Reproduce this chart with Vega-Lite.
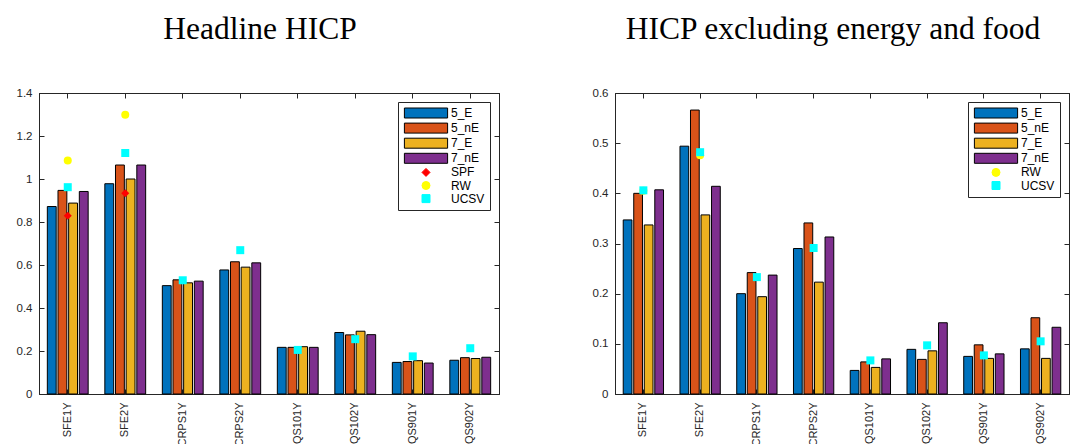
{
  "$schema": "https://vega.github.io/schema/vega-lite/v6.json",
  "background": "white",
  "padding": {"left": 15, "top": 13, "right": 0, "bottom": 0},
  "config": {
    "font": "Liberation Sans",
    "view": {"stroke": "#262626", "strokeWidth": 1},
    "axis": {
      "grid": false,
      "title": null,
      "domainColor": "#262626",
      "domainWidth": 1,
      "tickColor": "#262626",
      "tickWidth": 1,
      "tickSize": -5,
      "labelColor": "#262626",
      "labelFont": "Liberation Sans",
      "labelFontSize": 11.5
    },
    "title": {
      "font": "Liberation Serif",
      "fontSize": 31.5,
      "fontWeight": "normal",
      "color": "#000000",
      "baseline": "alphabetic",
      "offset": 42,
      "dx": -9
    },
    "legend": {
      "orient": "top-right",
      "offset": 9,
      "padding": 5,
      "strokeColor": "#262626",
      "fillColor": "white",
      "cornerRadius": 0,
      "labelFont": "Liberation Sans",
      "labelFontSize": 12,
      "labelColor": "#000000",
      "symbolSize": 64,
      "symbolOffset": 17,
      "labelOffset": 19,
      "rowPadding": 1.1,
      "symbolStrokeWidth": 1,
      "symbolOpacity": 1
    }
  },
  "datasets": {
    "barsL": [
      {"cat": "SFE1Y", "series": "5_E", "value": 0.872},
      {"cat": "SFE1Y", "series": "5_nE", "value": 0.947},
      {"cat": "SFE1Y", "series": "7_E", "value": 0.888},
      {"cat": "SFE1Y", "series": "7_nE", "value": 0.942},
      {"cat": "SFE2Y", "series": "5_E", "value": 0.978},
      {"cat": "SFE2Y", "series": "5_nE", "value": 1.065},
      {"cat": "SFE2Y", "series": "7_E", "value": 1.0},
      {"cat": "SFE2Y", "series": "7_nE", "value": 1.065},
      {"cat": "CRPS1Y", "series": "5_E", "value": 0.504},
      {"cat": "CRPS1Y", "series": "5_nE", "value": 0.531},
      {"cat": "CRPS1Y", "series": "7_E", "value": 0.517},
      {"cat": "CRPS1Y", "series": "7_nE", "value": 0.525},
      {"cat": "CRPS2Y", "series": "5_E", "value": 0.577},
      {"cat": "CRPS2Y", "series": "5_nE", "value": 0.615},
      {"cat": "CRPS2Y", "series": "7_E", "value": 0.59},
      {"cat": "CRPS2Y", "series": "7_nE", "value": 0.61},
      {"cat": "QS101Y", "series": "5_E", "value": 0.217},
      {"cat": "QS101Y", "series": "5_nE", "value": 0.217},
      {"cat": "QS101Y", "series": "7_E", "value": 0.22},
      {"cat": "QS101Y", "series": "7_nE", "value": 0.217},
      {"cat": "QS102Y", "series": "5_E", "value": 0.286},
      {"cat": "QS102Y", "series": "5_nE", "value": 0.275},
      {"cat": "QS102Y", "series": "7_E", "value": 0.292},
      {"cat": "QS102Y", "series": "7_nE", "value": 0.276},
      {"cat": "QS901Y", "series": "5_E", "value": 0.147},
      {"cat": "QS901Y", "series": "5_nE", "value": 0.151},
      {"cat": "QS901Y", "series": "7_E", "value": 0.155},
      {"cat": "QS901Y", "series": "7_nE", "value": 0.144},
      {"cat": "QS902Y", "series": "5_E", "value": 0.157},
      {"cat": "QS902Y", "series": "5_nE", "value": 0.169},
      {"cat": "QS902Y", "series": "7_E", "value": 0.165},
      {"cat": "QS902Y", "series": "7_nE", "value": 0.171}
    ],
    "ptsL": [
      {"cat": "SFE1Y", "series": "SPF", "value": 0.829},
      {"cat": "SFE2Y", "series": "SPF", "value": 0.934},
      {"cat": "SFE1Y", "series": "RW", "value": 1.086},
      {"cat": "SFE2Y", "series": "RW", "value": 1.299},
      {"cat": "SFE1Y", "series": "UCSV", "value": 0.962},
      {"cat": "SFE2Y", "series": "UCSV", "value": 1.121},
      {"cat": "CRPS1Y", "series": "UCSV", "value": 0.529},
      {"cat": "CRPS2Y", "series": "UCSV", "value": 0.669},
      {"cat": "QS101Y", "series": "UCSV", "value": 0.205},
      {"cat": "QS102Y", "series": "UCSV", "value": 0.255},
      {"cat": "QS901Y", "series": "UCSV", "value": 0.175},
      {"cat": "QS902Y", "series": "UCSV", "value": 0.213}
    ],
    "barsR": [
      {"cat": "SFE1Y", "series": "5_E", "value": 0.347},
      {"cat": "SFE1Y", "series": "5_nE", "value": 0.4},
      {"cat": "SFE1Y", "series": "7_E", "value": 0.337},
      {"cat": "SFE1Y", "series": "7_nE", "value": 0.407},
      {"cat": "SFE2Y", "series": "5_E", "value": 0.494},
      {"cat": "SFE2Y", "series": "5_nE", "value": 0.566},
      {"cat": "SFE2Y", "series": "7_E", "value": 0.357},
      {"cat": "SFE2Y", "series": "7_nE", "value": 0.414},
      {"cat": "CRPS1Y", "series": "5_E", "value": 0.2},
      {"cat": "CRPS1Y", "series": "5_nE", "value": 0.242},
      {"cat": "CRPS1Y", "series": "7_E", "value": 0.194},
      {"cat": "CRPS1Y", "series": "7_nE", "value": 0.237},
      {"cat": "CRPS2Y", "series": "5_E", "value": 0.29},
      {"cat": "CRPS2Y", "series": "5_nE", "value": 0.341},
      {"cat": "CRPS2Y", "series": "7_E", "value": 0.223},
      {"cat": "CRPS2Y", "series": "7_nE", "value": 0.313},
      {"cat": "QS101Y", "series": "5_E", "value": 0.047},
      {"cat": "QS101Y", "series": "5_nE", "value": 0.064},
      {"cat": "QS101Y", "series": "7_E", "value": 0.053},
      {"cat": "QS101Y", "series": "7_nE", "value": 0.07},
      {"cat": "QS102Y", "series": "5_E", "value": 0.089},
      {"cat": "QS102Y", "series": "5_nE", "value": 0.069},
      {"cat": "QS102Y", "series": "7_E", "value": 0.086},
      {"cat": "QS102Y", "series": "7_nE", "value": 0.142},
      {"cat": "QS901Y", "series": "5_E", "value": 0.075},
      {"cat": "QS901Y", "series": "5_nE", "value": 0.098},
      {"cat": "QS901Y", "series": "7_E", "value": 0.071},
      {"cat": "QS901Y", "series": "7_nE", "value": 0.08},
      {"cat": "QS902Y", "series": "5_E", "value": 0.09},
      {"cat": "QS902Y", "series": "5_nE", "value": 0.152},
      {"cat": "QS902Y", "series": "7_E", "value": 0.071},
      {"cat": "QS902Y", "series": "7_nE", "value": 0.133}
    ],
    "ptsR": [
      {"cat": "SFE1Y", "series": "RW", "value": 0.405},
      {"cat": "SFE2Y", "series": "RW", "value": 0.476},
      {"cat": "SFE1Y", "series": "UCSV", "value": 0.406},
      {"cat": "SFE2Y", "series": "UCSV", "value": 0.482},
      {"cat": "CRPS1Y", "series": "UCSV", "value": 0.233},
      {"cat": "CRPS2Y", "series": "UCSV", "value": 0.291},
      {"cat": "QS101Y", "series": "UCSV", "value": 0.067},
      {"cat": "QS102Y", "series": "UCSV", "value": 0.097},
      {"cat": "QS901Y", "series": "UCSV", "value": 0.077},
      {"cat": "QS902Y", "series": "UCSV", "value": 0.105}
    ]
  },
  "bounds": "flush",
  "spacing": 116,
  "hconcat": [
    {
      "title": {"text": "Headline HICP"},
      "width": 460,
      "height": 301,
      "layer": [
        {
          "data": {"name": "barsL"},
          "mark": {"type": "bar", "strokeWidth": 1},
          "encoding": {
            "x": {"field": "cat", "type": "nominal",
              "scale": {"domain": ["SFE1Y","SFE2Y","CRPS1Y","CRPS2Y","QS101Y","QS102Y","QS901Y","QS902Y"], "paddingInner": 0.29, "paddingOuter": 0.145},
              "axis": {"orient": "bottom", "labelAngle": -90, "labelPadding": 13, "labelFontSize": 11}},
            "xOffset": {"field": "series", "type": "nominal",
              "scale": {"domain": ["5_E","5_nE","7_E","7_nE"], "paddingInner": 0.17, "paddingOuter": 0}},
            "y": {"field": "value", "type": "quantitative",
              "scale": {"domain": [0, 1.4], "nice": false, "zero": true},
              "axis": {"orient": "left", "values": [0,0.2,0.4,0.6,0.8,1,1.2,1.4], "format": "~g", "labelPadding": 12}},
            "fill": {"field": "series", "type": "nominal",
              "scale": {"domain": ["5_E","5_nE","7_E","7_nE","SPF","RW","UCSV"], "range": ["#0072BD","#D95319","#EDB120","#7E2F8E","#FF0000","#FFFF00","#00FFFF"]},
              "legend": {"title": null}},
            "stroke": {"field": "series", "type": "nominal",
              "scale": {"domain": ["5_E","5_nE","7_E","7_nE","SPF","RW","UCSV"], "range": ["#000000","#000000","#000000","#000000","#FF0000","#FFFF00","#00FFFF"]},
              "legend": {"title": null}}
          }
        },
        {
          "data": {"name": "ptsL"},
          "mark": {"type": "point", "filled": true, "size": 64, "strokeWidth": 0, "opacity": 1},
          "encoding": {
            "x": {"field": "cat", "type": "nominal",
              "scale": {"domain": ["SFE1Y","SFE2Y","CRPS1Y","CRPS2Y","QS101Y","QS102Y","QS901Y","QS902Y"]},
              "axis": {"orient": "top", "labels": false}},
            "y": {"field": "value", "type": "quantitative",
              "axis": {"orient": "right", "labels": false, "values": [0,0.2,0.4,0.6,0.8,1,1.2,1.4]}},
            "fill": {"field": "series", "type": "nominal", "legend": {"title": null}},
            "stroke": {"field": "series", "type": "nominal", "legend": {"title": null}},
            "shape": {"field": "series", "type": "nominal",
              "scale": {"domain": ["5_E","5_nE","7_E","7_nE","SPF","RW","UCSV"], "range": ["M-5.4,-1.25H5.4V1.25H-5.4Z","M-5.4,-1.25H5.4V1.25H-5.4Z","M-5.4,-1.25H5.4V1.25H-5.4Z","M-5.4,-1.25H5.4V1.25H-5.4Z","diamond","circle","square"]},
              "legend": {"title": null}}
          }
        }
      ],
      "resolve": {"axis": {"x": "independent", "y": "independent"}}
    },
    {
      "title": {"text": "HICP excluding energy and food"},
      "width": 454,
      "height": 301,
      "layer": [
        {
          "data": {"name": "barsR"},
          "mark": {"type": "bar", "strokeWidth": 1},
          "encoding": {
            "x": {"field": "cat", "type": "nominal",
              "scale": {"domain": ["SFE1Y","SFE2Y","CRPS1Y","CRPS2Y","QS101Y","QS102Y","QS901Y","QS902Y"], "paddingInner": 0.29, "paddingOuter": 0.145},
              "axis": {"orient": "bottom", "labelAngle": -90, "labelPadding": 13, "labelFontSize": 11}},
            "xOffset": {"field": "series", "type": "nominal",
              "scale": {"domain": ["5_E","5_nE","7_E","7_nE"], "paddingInner": 0.17, "paddingOuter": 0}},
            "y": {"field": "value", "type": "quantitative",
              "scale": {"domain": [0, 0.6], "nice": false, "zero": true},
              "axis": {"orient": "left", "values": [0,0.1,0.2,0.3,0.4,0.5,0.6], "format": "~g", "labelPadding": 12}},
            "fill": {"field": "series", "type": "nominal",
              "scale": {"domain": ["5_E","5_nE","7_E","7_nE","RW","UCSV"], "range": ["#0072BD","#D95319","#EDB120","#7E2F8E","#FFFF00","#00FFFF"]},
              "legend": {"title": null}},
            "stroke": {"field": "series", "type": "nominal",
              "scale": {"domain": ["5_E","5_nE","7_E","7_nE","RW","UCSV"], "range": ["#000000","#000000","#000000","#000000","#FFFF00","#00FFFF"]},
              "legend": {"title": null}}
          }
        },
        {
          "data": {"name": "ptsR"},
          "mark": {"type": "point", "filled": true, "size": 64, "strokeWidth": 0, "opacity": 1},
          "encoding": {
            "x": {"field": "cat", "type": "nominal",
              "scale": {"domain": ["SFE1Y","SFE2Y","CRPS1Y","CRPS2Y","QS101Y","QS102Y","QS901Y","QS902Y"]},
              "axis": {"orient": "top", "labels": false}},
            "y": {"field": "value", "type": "quantitative",
              "axis": {"orient": "right", "labels": false, "values": [0,0.1,0.2,0.3,0.4,0.5,0.6]}},
            "fill": {"field": "series", "type": "nominal", "legend": {"title": null}},
            "stroke": {"field": "series", "type": "nominal", "legend": {"title": null}},
            "shape": {"field": "series", "type": "nominal",
              "scale": {"domain": ["5_E","5_nE","7_E","7_nE","RW","UCSV"], "range": ["M-5.4,-1.25H5.4V1.25H-5.4Z","M-5.4,-1.25H5.4V1.25H-5.4Z","M-5.4,-1.25H5.4V1.25H-5.4Z","M-5.4,-1.25H5.4V1.25H-5.4Z","circle","square"]},
              "legend": {"title": null}}
          }
        }
      ],
      "resolve": {"axis": {"x": "independent", "y": "independent"}}
    }
  ],
  "resolve": {
    "scale": {"x": "independent", "y": "independent", "xOffset": "independent", "fill": "independent", "stroke": "independent", "shape": "independent"},
    "legend": {"fill": "independent", "stroke": "independent", "shape": "independent"}
  }
}
